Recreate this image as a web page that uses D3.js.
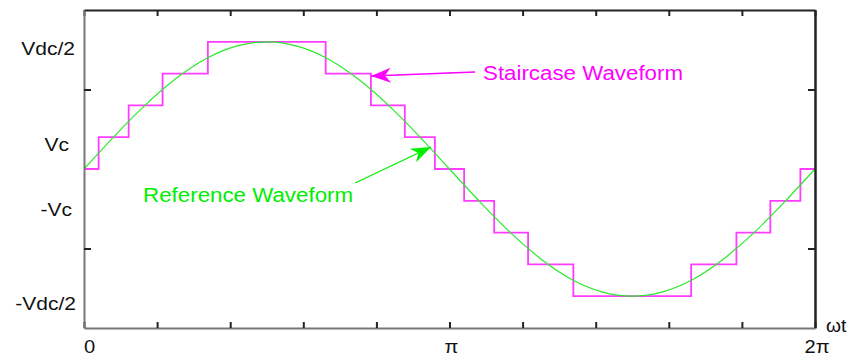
<!DOCTYPE html>
<html>
<head>
<meta charset="utf-8">
<script src="https://cdn.jsdelivr.net/npm/d3@7"></script>
<style>
  html, body { margin: 0; padding: 0; background: #fff; }
  svg { display: block; font-family: "Liberation Sans", Arial, sans-serif; }
</style>
</head>
<body>
<svg id="chart" width="850" height="358"></svg>
<script>
// ---- data (angle in degrees, value in chart units) ----
const refAngles = [0,15,30,45,60,75,90,105,120,135,150,165,180,195,210,225,240,255,270,285,300,315,330,345,360];
const refValues = [0,0.414,0.8,1.131,1.386,1.545,1.6,1.545,1.386,1.131,0.8,0.414,0,-0.414,-0.8,-1.131,-1.386,-1.545,-1.6,-1.545,-1.386,-1.131,-0.8,-0.414,0];

const stepAngles = [0,7.2,22,38.7,61,119,141.3,158,172.8,187.2,202,218.7,241,299,321.3,338,352.8,360];
const stepLevels = [0,0.4,0.8,1.2,1.6,1.2,0.8,0.4,0,-0.4,-0.8,-1.2,-1.6,-1.2,-0.8,-0.4,0,0];

const xTickValues = [0,36,72,108,144,180,216,252,288,324,360];
const yTickValues = [-1,1];
const xLabels = ["0","π","2π"];
const xLabelAngles = [0,180,360];
const yLabels = ["Vdc/2","Vc","-Vc","-Vdc/2"];
const yLabelValues = [1.434,0.226,-0.587,-1.774];
const yLabelRight = [75,69,72,76];

// ---- layout ----
const svg = d3.select("#chart");
const x = d3.scaleLinear().domain([0,360]).range([84,815]);
const y = d3.scaleLinear().domain([-2,2]).range([328,10]);

// waveforms
svg.append("path")
  .datum(stepAngles.map((a,i)=>[a,stepLevels[i]]))
  .attr("fill","none").attr("stroke","#ff3cff").attr("stroke-width",1.8)
  .attr("d", d3.line().x(d=>x(d[0])).y(d=>y(d[1])).curve(d3.curveStepAfter));

svg.append("path")
  .datum(refAngles.map((a,i)=>[a,refValues[i]]))
  .attr("fill","none").attr("stroke","#2de82d").attr("stroke-width",1.2)
  .attr("d", d3.line().x(d=>x(d[0])).y(d=>y(d[1])).curve(d3.curveNatural));

// axes
function styleAxis(g, color, width){
  g.select(".domain").attr("stroke",color).attr("stroke-width",width);
  g.selectAll(".tick line").attr("stroke","#222").attr("stroke-width",2);
  g.selectAll(".tick text").remove();
}
svg.append("g").attr("transform",`translate(0,${y(2)})`)
  .call(d3.axisTop(x).tickValues(xTickValues).tickSize(-6).tickSizeOuter(0).tickFormat(""))
  .call(g=>styleAxis(g,"#222",2.2));
svg.append("g").attr("transform",`translate(${x(360)},0)`)
  .call(d3.axisRight(y).tickValues(yTickValues).tickSize(-7).tickSizeOuter(0).tickFormat(""))
  .call(g=>styleAxis(g,"#222",2.5));
svg.append("g").attr("transform",`translate(0,${y(-2)})`)
  .call(d3.axisBottom(x).tickValues(xTickValues).tickSize(-6).tickSizeOuter(0).tickFormat(""))
  .call(g=>styleAxis(g,"#777",2));
svg.append("g").attr("transform",`translate(${x(0)},0)`)
  .call(d3.axisLeft(y).tickValues(yTickValues).tickSize(-7).tickSizeOuter(0).tickFormat(""))
  .call(g=>styleAxis(g,"#777",2));

// stretched text helper
function stretch(sel, f){
  sel.each(function(){ const l=this.getComputedTextLength(); d3.select(this).attr("textLength", l*f).attr("lengthAdjust","spacingAndGlyphs"); });
}

// y labels
svg.append("g").selectAll("text").data(yLabels).join("text")
  .attr("x",(d,i)=>yLabelRight[i]).attr("y",(d,i)=>y(yLabelValues[i]))
  .attr("text-anchor","end").attr("font-size",17.5).attr("fill","#111")
  .text(d=>d).call(stretch,1.2);

// x labels
svg.append("g").selectAll("text").data(xLabels).join("text")
  .attr("x",(d,i)=> i===0 ? x(xLabelAngles[i]) : x(xLabelAngles[i]) + 2)
  .attr("y",353)
  .attr("text-anchor",(d,i)=> i===0 ? "start" : "middle")
  .attr("font-size",17.5).attr("fill","#111")
  .text(d=>d).call(stretch,1.15);
svg.append("text").attr("x",826).attr("y",332).attr("font-size",17.5).attr("fill","#111")
  .text("ωt").call(stretch,1.1);

// annotations
function arrow(x1,y1,x2,y2,color){
  svg.append("line").attr("x1",x1).attr("y1",y1).attr("x2",x2).attr("y2",y2)
    .attr("stroke",color).attr("stroke-width",1.3);
  const ang = Math.atan2(y2-y1,x2-x1);
  const L=20, W=7.5, N=14;
  const pt=(d,o)=>[x2 - d*Math.cos(ang) - o*Math.sin(ang), y2 - d*Math.sin(ang) + o*Math.cos(ang)];
  const pts=[[x2,y2],pt(L,W),pt(N,0),pt(L,-W)];
  svg.append("path").attr("d","M"+pts.map(p=>p.join(",")).join("L")+"Z").attr("fill",color);
}
arrow(x(192.6),y(1.22),x(141.3),y(1.17),"#ff00ff");
arrow(x(133.5),y(-0.176),x(170.9),y(0.277),"#00ee00");

svg.append("text").attr("x",x(196.5)).attr("y",y(1.12)).attr("font-size",20).attr("fill","#ff00ff")
  .text("Staircase Waveform").attr("textLength",200).attr("lengthAdjust","spacingAndGlyphs");
svg.append("text").attr("x",x(29.1)).attr("y",y(-0.415)).attr("font-size",20).attr("fill","#00ee00")
  .text("Reference Waveform").attr("textLength",210).attr("lengthAdjust","spacingAndGlyphs");
</script>
</body>
</html>
